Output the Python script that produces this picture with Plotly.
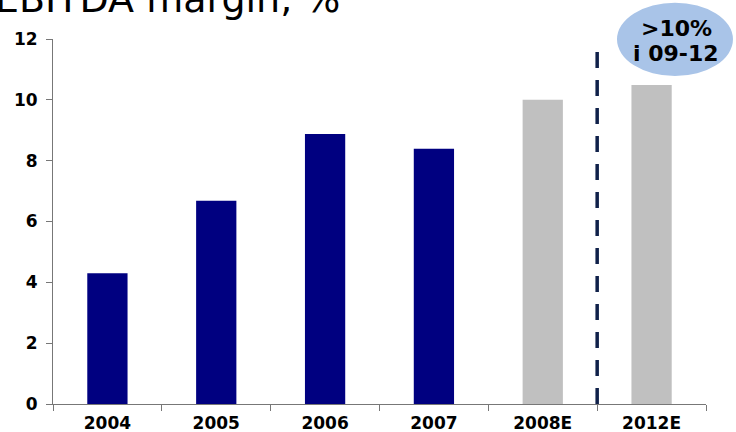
import plotly.graph_objects as go

categories = ["2004", "2005", "2006", "2007", "2008E", "2012E"]
values = [4.3, 6.68, 8.88, 8.39, 10.0, 10.49]
colors = ["#000080", "#000080", "#000080", "#000080", "#C0C0C0", "#C0C0C0"]
y_ticks = [0, 2, 4, 6, 8, 10, 12]
title_text = "EBITDA margin, %"
bubble_lines = [">10%", "i 09-12"]

fig = go.Figure()
fig.add_trace(go.Bar(
    x=categories, y=values, marker=dict(color=colors, line=dict(width=0)),
    width=0.37, hoverinfo="skip",
))

fig.update_layout(
    width=736, height=432,
    margin=dict(l=53, r=30, t=39, b=28, autoexpand=False),
    plot_bgcolor="white", paper_bgcolor="white",
    showlegend=False,
    font=dict(family="DejaVu Sans", color="black"),
    xaxis=dict(
        type="category", tickson="boundaries", ticks="outside", ticklen=6,
        tickcolor="#777", showline=True, linecolor="#777", linewidth=1,
        showgrid=False, tickfont=dict(family="DejaVu Sans", size=17, weight="bold"),
        range=[-0.5, 5.5], ticklabelstandoff=4,
    ),
    yaxis=dict(
        range=[0, 12], tickvals=y_ticks, ticks="outside", ticklen=6,
        tickcolor="#777", showline=True, linecolor="#777", linewidth=1,
        showgrid=False, zeroline=False, ticklabelstandoff=5,
        tickfont=dict(family="DejaVu Sans", size=17, weight="bold"),
    ),
)

# dashed separator between actuals and forecast
fig.add_shape(type="line", xref="x", yref="y", x0=4.5, x1=4.5, y0=0, y1=11.65,
              line=dict(color="#10214A", width=3.5, dash="16px,12px"))

# bubble
fig.add_shape(type="circle", xref="paper", yref="paper",
              x0=0.8637, x1=1.0413, y0=0.8986, y1=1.0995,
              fillcolor="#A9C4E8", line=dict(width=0), layer="above")
for line_text, ypos in zip(bubble_lines, [1.0288, 0.9603]):
    fig.add_annotation(xref="paper", yref="paper", x=0.9548, y=ypos,
                       text=line_text, showarrow=False, xanchor="center", yanchor="middle",
                       font=dict(family="DejaVu Sans", size=22, weight="bold", color="black"))

# clipped title
fig.add_annotation(xref="paper", yref="paper", x=-0.092, y=1.044,
                   text=title_text, showarrow=False, xanchor="left", yanchor="bottom",
                   font=dict(family="DejaVu Sans", size=38, color="black"))

fig.write_html("out.html", config={"displayModeBar": False},
               post_script="document.body.style.margin='0px';")
